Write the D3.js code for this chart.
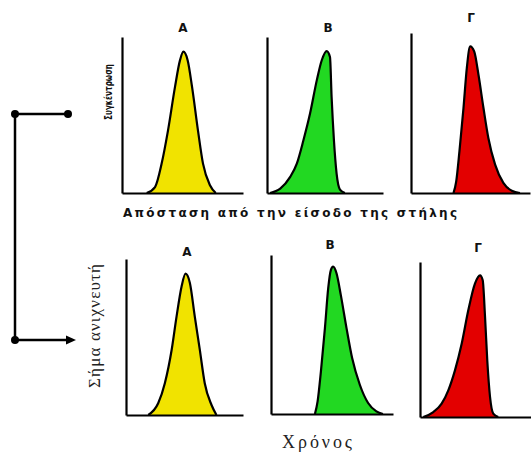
<!DOCTYPE html>
<html lang="el">
<head>
<meta charset="UTF-8">
<title>Χρωματογραφία</title>
<script src="https://cdnjs.cloudflare.com/ajax/libs/d3/7.8.5/d3.min.js"></script>
<style>
  body { margin: 0; background: #fff; }
  .axis path { stroke: #000; stroke-width: 2.2; }
  .lbl { font-family: "DejaVu Sans", "Liberation Sans", sans-serif; font-weight: bold; fill: #111; }
  .serif { font-family: "Liberation Serif", "DejaVu Serif", serif; fill: #222; }
</style>
</head>
<body>
<div id="chart"></div>
<script>
// peak labels and fill colours
const labels = ["Α", "Β", "Γ"];
const colors = ["#f1e300", "#22d822", "#e30000"];

// top row: concentration (% of axis) vs distance from column inlet (% of axis)
const distA = [20.4, 27.3, 32.8, 38, 43.8, 47.9, 50.7, 54.3, 57.9, 62.8, 66.9, 72.7, 77.5];
const concA = [0, 3.8, 19, 40, 68, 85, 90.6, 85, 68, 40, 19, 5, 0];
const distB = [2.6, 11.4, 20, 25.7, 31.4, 37.1, 42.9, 47.2, 51.5, 54.3, 55.7, 57.7, 60, 62.9, 67.2];
const concB = [0, 2.8, 10.3, 18.8, 33.8, 50.9, 72.2, 85.1, 91, 87.2, 61.5, 33.8, 12.4, 2.2, 0];
const distG = [35.7, 38, 40.7, 44.1, 46.9, 49.7, 53.1, 56.7, 60.9, 65, 70.7, 77.6, 84.7, 91.6];
const concG = [0, 7.3, 26, 53.1, 78.1, 91.6, 88.5, 73.9, 53.1, 34.4, 17.7, 6.3, 1.4, 0];

// bottom row: detector signal vs time
const timeA = [19, 27.5, 33.2, 39, 43.2, 47.5, 50.9, 54.6, 58.8, 63.1, 67.3, 73.1, 77.3];
const signalA = [0, 7.5, 20.4, 41.7, 63.1, 82.4, 90.6, 84.6, 63.1, 41.7, 20.4, 6.4, 0];
const timeB = [36, 38.2, 40.9, 44.2, 46.9, 49.1, 50.9, 53.7, 57.2, 61.9, 66.5, 72.8, 79.6, 86.4, 91.8];
const signalB = [0, 7.9, 26.7, 54, 79.1, 90.6, 92.7, 88.5, 74.9, 54, 35.2, 18.4, 6.9, 1.6, 0];
const timeG = [3, 12, 19.5, 25.5, 31.5, 37.6, 43.5, 49.5, 54.1, 56.5, 58.6, 60.6, 63.1, 66, 70.5];
const signalG = [0, 3.2, 8.6, 17.2, 30.1, 47.4, 68.8, 86.1, 91.4, 88.2, 64.5, 36.6, 12.9, 2.2, 0];

const width = 531, height = 452;

const svg = d3.select("#chart").append("svg")
    .attr("width", width)
    .attr("height", height);

// panel boxes (pixels)
const topBoxes = [
    {x0: 122, x1: 243, y0: 37, y1: 193, lx: 183, ly: 32},
    {x0: 267, x1: 383, y0: 37, y1: 193, lx: 328, ly: 32},
    {x0: 411, x1: 530, y0: 33, y1: 193, lx: 471, ly: 22}
];
const botBoxes = [
    {x0: 126, x1: 243, y0: 259, y1: 415, lx: 187, ly: 256},
    {x0: 271, x1: 393, y0: 255, y1: 414, lx: 330, ly: 249},
    {x0: 420, x1: 531, y0: 262, y1: 417, lx: 478, ly: 252}
];

function drawPanel(box, xs, ys, color, label) {
    const x = d3.scaleLinear().domain([0, 100]).range([box.x0, box.x1]);
    const y = d3.scaleLinear().domain([0, 100]).range([box.y1, box.y0]);
    const pts = xs.map((v, i) => [v, ys[i]]);

    const g = svg.append("g");

    g.append("path")
        .datum(pts)
        .attr("fill", color)
        .attr("d", d3.area()
            .x(d => x(d[0]))
            .y0(y(0))
            .y1(d => y(d[1]))
            .curve(d3.curveMonotoneX));

    g.append("path")
        .datum(pts)
        .attr("fill", "none")
        .attr("stroke", "#000")
        .attr("stroke-width", 2.2)
        .attr("d", d3.line()
            .x(d => x(d[0]))
            .y(d => y(d[1]))
            .curve(d3.curveMonotoneX));

    g.append("g")
        .attr("class", "axis")
        .attr("transform", `translate(0,${box.y1})`)
        .call(d3.axisBottom(x).tickValues([]).tickSizeOuter(0));

    g.append("g")
        .attr("class", "axis")
        .attr("transform", `translate(${box.x0},0)`)
        .call(d3.axisLeft(y).tickValues([]).tickSizeOuter(0));

    g.append("text")
        .attr("class", "lbl")
        .attr("x", box.lx)
        .attr("y", box.ly)
        .attr("text-anchor", "middle")
        .attr("font-size", 12)
        .text(label);
}

drawPanel(topBoxes[0], distA, concA, colors[0], labels[0]);
drawPanel(topBoxes[1], distB, concB, colors[1], labels[1]);
drawPanel(topBoxes[2], distG, concG, colors[2], labels[2]);
drawPanel(botBoxes[0], timeA, signalA, colors[0], labels[0]);
drawPanel(botBoxes[1], timeB, signalB, colors[1], labels[1]);
drawPanel(botBoxes[2], timeG, signalG, colors[2], labels[2]);

// axis titles
svg.append("text")
    .attr("class", "lbl")
    .attr("transform", "translate(112,92) rotate(-90)")
    .attr("text-anchor", "middle")
    .attr("font-size", 10.5)
    .attr("textLength", 56)
    .attr("lengthAdjust", "spacingAndGlyphs")
    .text("Συγκέντρωση");

svg.append("text")
    .attr("class", "lbl")
    .attr("x", 123)
    .attr("y", 217)
    .attr("font-size", 12)
    .attr("textLength", 334)
    .attr("lengthAdjust", "spacing")
    .text("Απόσταση από την είσοδο της στήλης");

svg.append("text")
    .attr("class", "serif")
    .attr("transform", "translate(100,326) rotate(-90)")
    .attr("text-anchor", "middle")
    .attr("font-size", 17)
    .attr("textLength", 124)
    .attr("lengthAdjust", "spacing")
    .text("Σήμα ανιχνευτή");

svg.append("text")
    .attr("class", "serif")
    .attr("x", 282)
    .attr("y", 448)
    .attr("font-size", 18)
    .attr("textLength", 70)
    .attr("lengthAdjust", "spacing")
    .text("Χρόνος");

// bracket connecting the two rows
const conn = svg.append("g").attr("stroke", "#000").attr("stroke-width", 2.5);
conn.append("line").attr("x1", 15).attr("y1", 114).attr("x2", 15).attr("y2", 340);
conn.append("line").attr("x1", 15).attr("y1", 114).attr("x2", 68).attr("y2", 114);
conn.append("line").attr("x1", 15).attr("y1", 340).attr("x2", 68).attr("y2", 340);
[[15, 114], [68, 114], [15, 340]].forEach(p => {
    svg.append("circle").attr("cx", p[0]).attr("cy", p[1]).attr("r", 4).attr("fill", "#000");
});
svg.append("path")
    .attr("d", "M66,335.5L76,340L66,344.5Z")
    .attr("fill", "#000");
</script>
</body>
</html>
